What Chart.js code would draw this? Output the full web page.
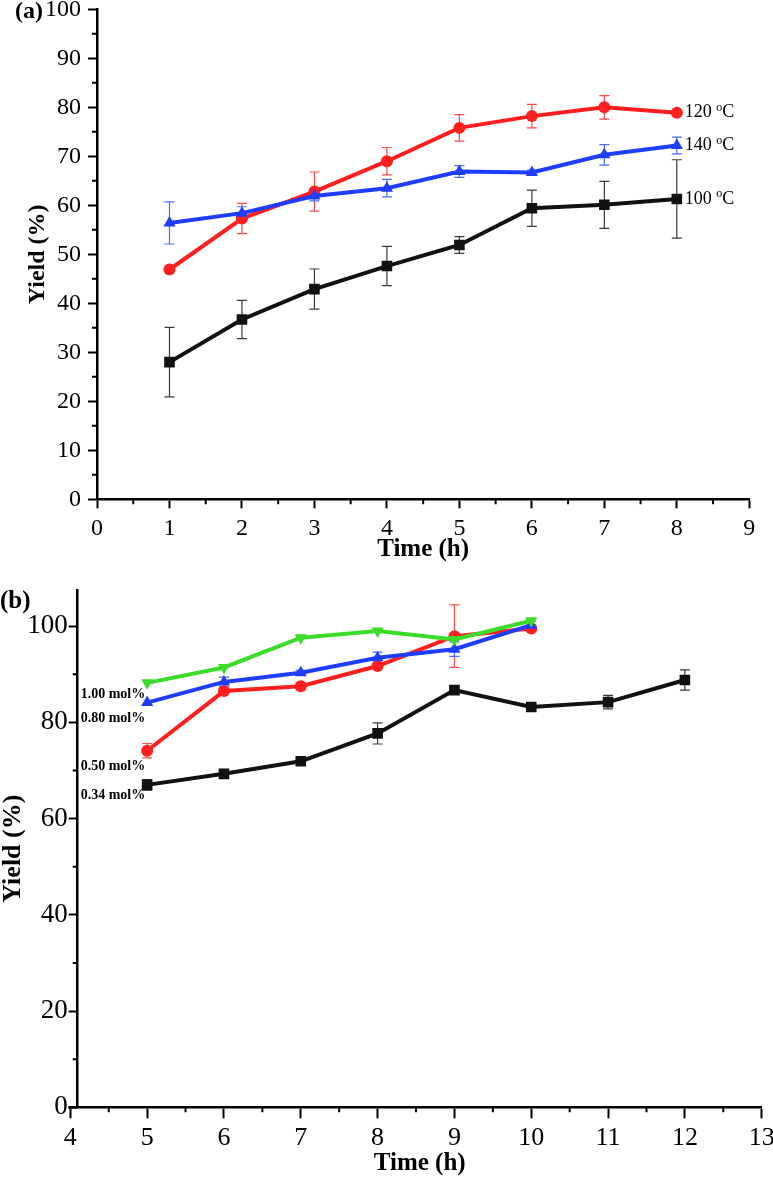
<!DOCTYPE html>
<html>
<head>
<meta charset="utf-8">
<script src="https://cdn.jsdelivr.net/npm/chart.js@4.4.1/dist/chart.umd.min.js"></script>
<style>
  html, body { margin: 0; padding: 0; background: #fff; }
  canvas { position: absolute; left: 0; }
  #chartA { top: 0; }
  #chartB { top: 580px; }
</style>
</head>
<body>
<canvas id="chartA" width="773" height="580"></canvas>
<canvas id="chartB" width="773" height="599"></canvas>
<script>
// ---------------- (a) yield vs time at three temperatures ----------------
const timeA = [1, 2, 3, 4, 5, 6, 7, 8];
const yield100 = [28.0, 36.7, 42.9, 47.6, 51.9, 59.4, 60.1, 61.3];
const err100 = [7.1, 3.9, 4.1, 4.0, 1.7, 3.7, 4.8, 8.0];
const yield120 = [46.9, 57.3, 62.8, 69.0, 75.8, 78.2, 80.0, 78.9];
const err120 = [0, 3.1, 4.0, 2.8, 2.7, 2.4, 2.4, 0];
const yield140 = [56.4, 58.4, 61.9, 63.5, 66.9, 66.7, 70.3, 72.2];
const err140 = [4.3, 1.3, 1.0, 1.8, 1.2, 0.5, 2.1, 1.7];
const tempLabels = ["100", "120", "140"];
const xTicksA = [0, 1, 2, 3, 4, 5, 6, 7, 8, 9];
const yTicksA = [0, 10, 20, 30, 40, 50, 60, 70, 80, 90, 100];

// ---------------- (b) yield vs time at four catalyst loadings ----------------
const timeB034 = [5, 6, 7, 8, 9, 10, 11, 12];
const yield034 = [67.0, 69.3, 71.9, 77.7, 86.7, 83.2, 84.2, 88.8];
const err034 = [1.1, 0.4, 0.3, 2.2, 0.8, 0.4, 1.4, 2.1];
const timeB = [5, 6, 7, 8, 9, 10];
const yield050 = [74.1, 86.5, 87.5, 91.7, 97.9, 99.5];
const err050 = [1.5, 0.5, 0.7, 0.5, 6.5, 0.6];
const yield080 = [84.1, 88.4, 90.3, 93.4, 95.2, 100.2];
const err080 = [0, 1.0, 0.5, 1.2, 1.5, 0.8];
const yield100mol = [88.2, 91.4, 97.6, 99.0, 97.2, 101.1];
const loadLabels = ["0.34 mol%", "0.50 mol%", "0.80 mol%", "1.00 mol%"];
const xTicksB = [4, 5, 6, 7, 8, 9, 10, 11, 12, 13];
const yTicksB = [0, 20, 40, 60, 80, 100];

const SERIF = "'Liberation Serif', 'Times New Roman', serif";
const BLACK = "#111111", RED = "#ff1f1f", BLUE = "#1f3dff", GREEN = "#3ddc2a";

function pts(xs, ys) {
    return xs.map((x, i) => ({ x: x, y: ys[i] }));
}

function halfSteps(ticks) {
    let out = [];
    for (let i = 0; i < ticks.length - 1; i++) out.push((ticks[i] + ticks[i + 1]) / 2);
    return out;
}

// error bars, drawn under the lines
const errorBars = {
    id: "errorBars",
    beforeDatasetsDraw(chart) {
        const ctx = chart.ctx;
        const xs = chart.scales.x, ys = chart.scales.y;
        chart.data.datasets.forEach(ds => {
            if (!ds.errors) return;
            ctx.save();
            ctx.strokeStyle = ds.errorColor;
            ctx.lineWidth = 1.2;
            ctx.beginPath();
            ds.data.forEach((p, i) => {
                const e = ds.errors[i];
                if (!e) return;
                const px = xs.getPixelForValue(p.x);
                const top = ys.getPixelForValue(p.y + e);
                const bot = ys.getPixelForValue(p.y - e);
                ctx.moveTo(px, top); ctx.lineTo(px, bot);
                ctx.moveTo(px - 5, top); ctx.lineTo(px + 5, top);
                ctx.moveTo(px - 5, bot); ctx.lineTo(px + 5, bot);
            });
            ctx.stroke();
            ctx.restore();
        });
    }
};

// minor ticks, panel letter and series labels
const deco = {
    id: "deco",
    afterDraw(chart, args, opts) {
        const ctx = chart.ctx;
        const area = chart.chartArea;
        const xs = chart.scales.x, ys = chart.scales.y;
        ctx.save();
        ctx.strokeStyle = "#000";
        ctx.lineWidth = 2;
        ctx.beginPath();
        opts.minorX.forEach(v => {
            const px = xs.getPixelForValue(v);
            ctx.moveTo(px, area.bottom); ctx.lineTo(px, area.bottom + 5);
        });
        opts.minorY.forEach(v => {
            const py = ys.getPixelForValue(v);
            ctx.moveTo(area.left, py); ctx.lineTo(area.left - 5, py);
        });
        ctx.stroke();

        // x axis line reaches the first tick when it lies left of the y axis
        const x0 = xs.getPixelForValue(opts.xStart);
        if (x0 < area.left) {
            ctx.lineWidth = 2.5;
            ctx.beginPath();
            ctx.moveTo(x0 - 2, area.bottom);
            ctx.lineTo(area.left, area.bottom);
            ctx.stroke();
        }

        ctx.fillStyle = "#000";
        ctx.textBaseline = "middle";
        ctx.font = "bold " + opts.panelSize + "px " + SERIF;
        ctx.fillText(opts.panel, opts.panelX, opts.panelY);

        if (opts.drawLabels) opts.drawLabels(chart, ctx);
        ctx.restore();
    }
};

function axisCommon(ticks, tickLen, pad, size, minV, maxV) {
    return {
        type: "linear",
        min: minV,
        max: maxV,
        afterBuildTicks: s => { s.ticks = ticks.map(v => ({ value: v })); },
        grid: { drawOnChartArea: false, drawTicks: true, tickLength: tickLen, tickWidth: 2, tickColor: "#000" },
        border: { display: true, color: "#000", width: 2.5 },
        ticks: {
            autoSkip: false, maxRotation: 0, padding: pad, color: "#000",
            font: { family: SERIF, size: size, lineHeight: 0.8 }
        }
    };
}

// fixed box size, and no extra edge padding from the tick labels
function fixBox(axis, key, size) {
    axis.afterFit = s => {
        s[key] = size;
        s.paddingLeft = 0; s.paddingRight = 0;
        s.paddingTop = 0; s.paddingBottom = 0;
    };
}

function lineSet(label, data, color, style, radius, errs, errColor, order, rotation) {
    return {
        label: label,
        data: data,
        borderColor: color,
        backgroundColor: color,
        borderWidth: 4,
        pointStyle: style,
        pointRadius: radius,
        pointRotation: rotation || 0,
        pointBorderWidth: 0,
        pointBackgroundColor: color,
        errors: errs,
        errorColor: errColor,
        order: order,
        tension: 0
    };
}

// ---------------- chart (a) ----------------
const xA = axisCommon(xTicksA, 9, 11, 24, 0, 9);
fixBox(xA, "height", 80.7);
xA.title = { display: true, text: "Time (h)", color: "#000", font: { family: SERIF, size: 25, weight: "bold", lineHeight: 1 }, padding: { top: 0, bottom: 17.5 } };
const yA = axisCommon(yTicksA, 9, 7, 24, 0, 100);
fixBox(yA, "width", 97);
yA.title = { display: true, text: "Yield (%)", color: "#000", font: { family: SERIF, size: 24, weight: "bold", lineHeight: 1 }, padding: { top: 26, bottom: 0 } };

new Chart(document.getElementById("chartA").getContext("2d"), {
    type: "line",
    data: {
        datasets: [
            lineSet(tempLabels[0], pts(timeA, yield100), BLACK, "rect", 7.5, err100, "#3a3a3a", 2),
            lineSet(tempLabels[1], pts(timeA, yield120), RED, "circle", 6, err120, "#ff4a4a", 1),
            lineSet(tempLabels[2], pts(timeA, yield140), BLUE, "triangle", 7, err140, "#4a6cff", 0)
        ]
    },
    options: {
        responsive: false,
        animation: false,
        layout: { padding: { left: 0, right: 23.7, top: 9.3, bottom: 0 } },
        scales: { x: xA, y: yA },
        plugins: {
            legend: { display: false },
            tooltip: { enabled: false },
            deco: {
                minorX: halfSteps(xTicksA),
                minorY: halfSteps(yTicksA),
                xStart: xTicksA[0],
                panel: "(a)", panelSize: 24, panelX: 15, panelY: 12,
                drawLabels: (chart, ctx) => {
                    chart.data.datasets.forEach((ds, i) => {
                        const meta = chart.getDatasetMeta(i);
                        const last = meta.data[meta.data.length - 1];
                        let x = last.x + 8;
                        const y = last.y;
                        ctx.font = "18px " + SERIF;
                        ctx.fillText(tempLabels[i] + " ", x, y);
                        x += ctx.measureText(tempLabels[i] + " ").width;
                        ctx.font = "12px " + SERIF;
                        ctx.fillText("o", x, y - 5);
                        x += ctx.measureText("o").width;
                        ctx.font = "18px " + SERIF;
                        ctx.fillText("C", x, y);
                    });
                }
            }
        }
    },
    plugins: [errorBars, deco]
});

// ---------------- chart (b) ----------------
const xB = axisCommon(xTicksB, 11, 9, 26, 4.096, 13);
fixBox(xB, "height", 71.7);
xB.title = { display: true, text: "Time (h)", color: "#000", font: { family: SERIF, size: 25, weight: "bold", lineHeight: 1 }, padding: { top: 0, bottom: 2.5 } };
const yB = axisCommon(yTicksB, 9, 1, 27, 0, 107.5);
fixBox(yB, "width", 77.7);
yB.title = { display: true, text: "Yield (%)", color: "#000", font: { family: SERIF, size: 26, weight: "bold", lineHeight: 1 }, padding: { top: 0, bottom: 0 } };

const labelOffsetsB = [11, 16, 16, 11.5];

new Chart(document.getElementById("chartB").getContext("2d"), {
    type: "line",
    data: {
        datasets: [
            lineSet(loadLabels[0], pts(timeB034, yield034), BLACK, "rect", 7.5, err034, "#3a3a3a", 3),
            lineSet(loadLabels[1], pts(timeB, yield050), RED, "circle", 6, err050, "#ff4a4a", 2),
            lineSet(loadLabels[2], pts(timeB, yield080), BLUE, "triangle", 7, err080, "#4a6cff", 1),
            lineSet(loadLabels[3], pts(timeB, yield100mol), GREEN, "triangle", 7, null, GREEN, 0, 180)
        ]
    },
    options: {
        responsive: false,
        animation: false,
        layout: { padding: { left: 0, right: 11.3, top: 10, bottom: 0 } },
        scales: { x: xB, y: yB },
        plugins: {
            legend: { display: false },
            tooltip: { enabled: false },
            deco: {
                minorX: halfSteps(xTicksB),
                minorY: halfSteps(yTicksB),
                xStart: xTicksB[0],
                panel: "(b)", panelSize: 25, panelX: 0, panelY: 22,
                drawLabels: (chart, ctx) => {
                    ctx.font = "bold 14px " + SERIF;
                    chart.data.datasets.forEach((ds, i) => {
                        const first = chart.getDatasetMeta(i).data[0];
                        ctx.fillText(loadLabels[i], chart.chartArea.left + 3, first.y + labelOffsetsB[i]);
                    });
                }
            }
        }
    },
    plugins: [errorBars, deco]
});
</script>
</body>
</html>
